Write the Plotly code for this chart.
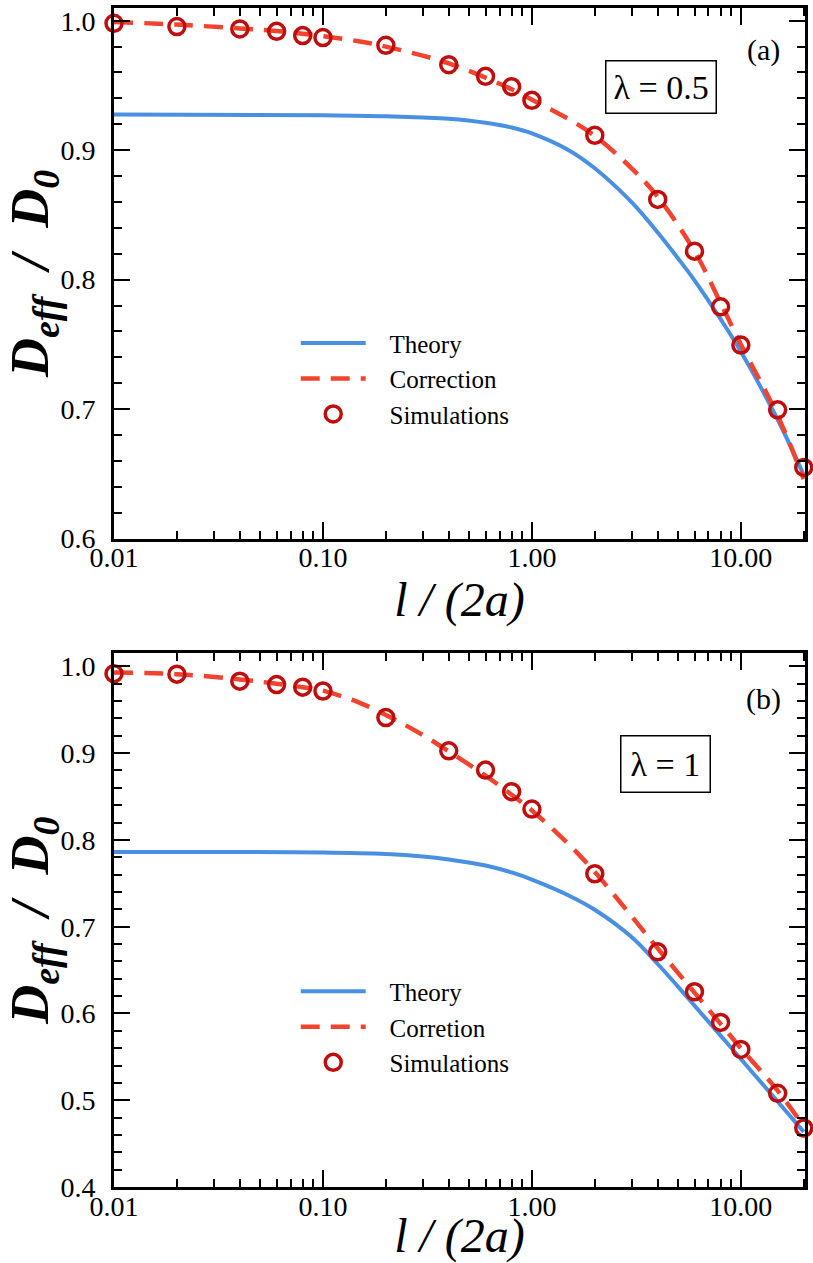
import plotly.graph_objects as go

# ---------------- data ----------------
x_sim = [0.01, 0.02, 0.04, 0.06, 0.08, 0.1, 0.2, 0.4, 0.6, 0.8, 1.0, 2.0, 4.0, 6.0, 8.0, 10.0, 15.0, 20.0]

# panel (a)  lambda = 0.5
sim_a = [0.998, 0.9955, 0.9936, 0.9918, 0.9885, 0.987, 0.981, 0.966, 0.957, 0.949, 0.9385,
         0.9115, 0.862, 0.822, 0.779, 0.7495, 0.6995, 0.655]
x_corr_a = [0.01, 0.02, 0.04, 0.06, 0.08, 0.1, 0.15, 0.2, 0.3, 0.4, 0.6, 0.8, 1.0, 1.5, 2.0,
            3.0, 4.0, 6.0, 8.0, 10.0, 15.0, 20.0]
corr_a = [0.999, 0.997, 0.994, 0.992, 0.990, 0.988, 0.984, 0.980, 0.973, 0.967, 0.956, 0.947,
          0.939, 0.924, 0.911, 0.886, 0.864, 0.822, 0.782, 0.750, 0.695, 0.646]
x_theo_a = [0.01, 0.1, 0.2, 0.3, 0.4, 0.6, 0.8, 1.0, 1.5, 2.0, 3.0, 4.0, 5.0, 6.0, 8.0,
            10.0, 15.0, 20.0]
theo_a = [0.9275, 0.927, 0.9262, 0.9253, 0.9243, 0.9212, 0.9175, 0.913, 0.900, 0.886,
          0.8598, 0.8364, 0.8165, 0.7995, 0.7695, 0.7445, 0.692, 0.649]

# panel (b)  lambda = 1
sim_b = [0.9916, 0.991, 0.983, 0.979, 0.976, 0.9716, 0.941, 0.9027, 0.8805, 0.8556, 0.8356,
         0.761, 0.671, 0.625, 0.5897, 0.5586, 0.508, 0.468]
x_corr_b = [0.01, 0.02, 0.04, 0.06, 0.08, 0.1, 0.15, 0.2, 0.3, 0.4, 0.6, 0.8, 1.0, 1.5, 2.0,
            3.0, 4.0, 6.0, 8.0, 10.0, 15.0, 20.0]
corr_b = [0.993, 0.991, 0.985, 0.980, 0.976, 0.972, 0.958, 0.944, 0.921, 0.902, 0.874, 0.852,
          0.834, 0.795, 0.763, 0.712, 0.675, 0.624, 0.588, 0.560, 0.511, 0.470]
x_theo_b = [0.01, 0.1, 0.2, 0.3, 0.4, 0.6, 0.8, 1.0, 1.5, 2.0, 3.0, 4.0, 5.0, 6.0, 8.0,
            10.0, 15.0, 20.0]
theo_b = [0.786, 0.7855, 0.7838, 0.781, 0.7775, 0.7705, 0.7625, 0.7543, 0.736, 0.7195,
          0.688, 0.657, 0.631, 0.609, 0.5745, 0.5475, 0.4985, 0.4635]

x_tickvals = [0.01, 0.1, 1, 10]
x_ticktext = ["0.01", "0.10", "1.00", "10.00"]
x_minor = [m * d for d in (0.01, 0.1, 1, 10) for m in range(2, 10) if m * d <= 20]

legend_names_a = ["Theory", "Correction", "Simulations"]
legend_names_b = ["Theory", "Corretion", "Simulations"]

# ---------------- styling ----------------
W, H = 813, 1263
ML, MR, MT, MB = 114, 7, 5, 76
BLUE = "#4A90E2"
RED = "#F2432F"
DARKRED = "#C00D0D"
SERIF = "Liberation Serif"
PAD = "\u00a0\u00a0\u00a0"   # gap between legend symbol and label


def px(xp):
    return (xp - ML) / (W - ML - MR)


def py(yp):
    return (H - MB - yp) / (H - MT - MB)


fig = go.Figure()

panels = [
    ("x", "y", "legend", x_theo_a, theo_a, x_corr_a, corr_a, sim_a, legend_names_a),
    ("x2", "y2", "legend2", x_theo_b, theo_b, x_corr_b, corr_b, sim_b, legend_names_b),
]
for xa, ya, lg, xt, yt, xc, yc, ys, names in panels:
    fig.add_trace(go.Scatter(x=xt, y=yt, mode="lines", name=PAD + names[0], xaxis=xa, yaxis=ya,
                             legend=lg, line=dict(color=BLUE, width=4, shape="spline",
                                                  smoothing=1.0)))
    fig.add_trace(go.Scatter(x=xc, y=yc, mode="lines", name=PAD + names[1], xaxis=xa, yaxis=ya,
                             legend=lg, line=dict(color=RED, width=4.5, dash="19px,11px",
                                                  shape="spline", smoothing=1.0)))
    fig.add_trace(go.Scatter(x=x_sim, y=ys, mode="markers", name=PAD + names[2], xaxis=xa,
                             yaxis=ya, legend=lg, cliponaxis=False,
                             marker=dict(symbol="circle-open", size=16, color=DARKRED,
                                         line=dict(width=3.5, color=DARKRED))))

axis_common = dict(showline=True, linewidth=3, linecolor="black", mirror="allticks",
                   ticks="inside", tickwidth=2, tickcolor="black", showgrid=False,
                   zeroline=False, tickfont=dict(family=SERIF, size=28, color="black"))

xaxis_common = dict(axis_common, type="log", range=[-2, 1.307], tickvals=x_tickvals,
                    ticktext=x_ticktext, ticklen=17, ticklabelstandoff=-8,
                    minor=dict(tickvals=x_minor, ticks="inside", ticklen=8, tickwidth=2,
                               tickcolor="black", showgrid=False),
                    title=dict(text="<i>l / (2a)</i>", font=dict(family=SERIF, size=48,
                                                                 color="black"), standoff=0))

yaxis_common = dict(axis_common, ticklen=16, dtick=0.1, tickformat=".1f",
                    ticklabelstandoff=10,
                    minor=dict(dtick=0.02, ticks="inside", ticklen=8, tickwidth=2,
                               tickcolor="black", showgrid=False),
                    title=dict(text="<b><i>D<sub>eff</sub>\u00a0\u00a0/\u00a0\u00a0D<sub>0</sub></i></b>",
                               font=dict(family=SERIF, size=54, color="black"), standoff=6))

a_bot, a_top = py(537), py(5)
b_bot, b_top = py(1187), py(652)

legend_common = dict(font=dict(family=SERIF, size=25, color="black"), bgcolor="rgba(0,0,0,0)",
                     borderwidth=0, itemwidth=65, tracegroupgap=0, xanchor="left",
                     yanchor="top", itemclick=False)

fig.update_layout(
    width=W, height=H,
    margin=dict(l=ML, r=MR, t=MT, b=MB),
    paper_bgcolor="white", plot_bgcolor="white",
    showlegend=True,
    xaxis=dict(xaxis_common, domain=[0, 1], anchor="y"),
    yaxis=dict(yaxis_common, domain=[a_bot, a_top], range=[0.6, 1.0098], anchor="x"),
    xaxis2=dict(xaxis_common, domain=[0, 1], anchor="y2"),
    yaxis2=dict(yaxis_common, domain=[b_bot, b_top], range=[0.4, 1.015], anchor="x2"),
    legend=dict(legend_common, x=px(296), y=py(318)),
    legend2=dict(legend_common, x=px(296), y=py(968)),
    annotations=[
        dict(text="\u03bb = 0.5", xref="paper", yref="paper", x=px(662), y=py(84),
             xanchor="center", yanchor="middle",
             showarrow=False, font=dict(family=SERIF, size=34, color="black"),
             bordercolor="black", borderwidth=1.5, borderpad=7, bgcolor="white"),
        dict(text="(a)", xref="paper", yref="paper", x=px(764), y=py(47),
             xanchor="center", yanchor="middle",
             showarrow=False, font=dict(family=SERIF, size=30, color="black")),
        dict(text="\u03bb = 1", xref="paper", yref="paper", x=px(666), y=py(763),
             xanchor="center", yanchor="middle",
             showarrow=False, font=dict(family=SERIF, size=34, color="black"),
             bordercolor="black", borderwidth=1.5, borderpad=9, bgcolor="white"),
        dict(text="(b)", xref="paper", yref="paper", x=px(764), y=py(698),
             xanchor="center", yanchor="middle",
             showarrow=False, font=dict(family=SERIF, size=30, color="black")),
    ],
)

fig.write_html("out.html", config={"displayModeBar": False},
               post_script="document.body.style.margin='0';")
